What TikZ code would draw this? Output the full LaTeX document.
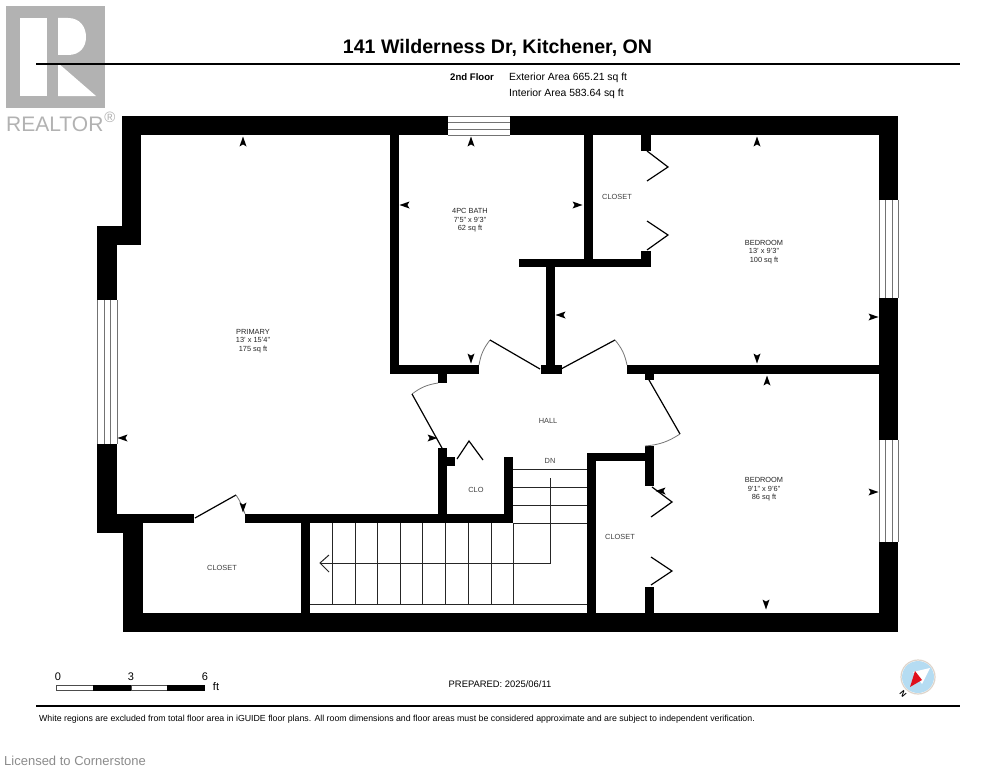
\documentclass[tikz,border=0pt]{standalone}
\usepackage{fontspec}
\setmainfont{Liberation Sans}
\definecolor{logogrey}{HTML}{B2B2B2}
\definecolor{arcgrey}{HTML}{777777}
\definecolor{compassblue}{HTML}{B5DCF2}
\definecolor{compassring}{HTML}{DDD5CC}
\definecolor{compassred}{HTML}{E0101C}
\newcommand{\fs}[1]{\fontsize{#1}{8.6}\selectfont}
\newcommand{\mk}[3]{\fill[black,shift={(#1,#2)},rotate=#3] (0,-5.5) -- (3.5,4.5) -- (0,2.4) -- (-3.5,4.5) -- cycle;}
\tikzset{
  wall/.style={fill=black,draw=none},
  doorleaf/.style={draw=black,line width=1.2pt},
  doorarc/.style={draw=arcgrey,line width=0.8pt},
  stair/.style={draw=black!85,line width=1pt},
  winline/.style={draw=black!55,line width=0.8pt},
  room/.style={font=\fs{7.4},text=black!75,align=center,inner sep=0pt,text depth=0pt},
  roomtitle/.style={font=\fs{7.4},text=black!85,align=center,inner sep=0pt},
  head/.style={inner sep=0pt,anchor=west}
}
\begin{document}
\begin{tikzpicture}[x=1pt,y=-1pt]
\useasboundingbox (0,0) rectangle (995,768);
\fill[white] (0,0) rectangle (995,768);
% logo
\fill[logogrey] (6,6) rectangle (105,108);
\fill[white] (20,18) rectangle (47,96);
\fill[white] (58,18) -- (68,18) .. controls (80,18) and (86,27) .. (86,37) .. controls (86,47) and (80,55) .. (68,55) -- (58,55) -- cycle;
\fill[white] (58,63) -- (96,96) -- (58,96) -- cycle;
\node[font=\fs{21},text=logogrey,inner sep=0pt,anchor=base west] (realtor) at (6,131.5) {REALTOR};
\node[font=\fs{15},text=logogrey,inner sep=0pt] (regmark) at (110,117.5) {®};
% rules and title
\draw[black,line width=1.5pt] (36,64) -- (960,64);
\draw[black,line width=1.8pt] (36,706) -- (960,706);
\node[font=\fs{19.6}\bfseries,inner sep=0pt] (title) at (497.5,47.5) {141 Wilderness Dr, Kitchener, ON};
\node[font=\fs{9.6}\bfseries,inner sep=0pt,anchor=base west] (floor) at (450,80) {2nd Floor};
\node[font=\fs{10.4},inner sep=0pt,anchor=base west] (ext) at (509,80) {Exterior Area 665.21 sq ft};
\node[font=\fs{10.4},inner sep=0pt,anchor=base west] (int) at (509,96) {Interior Area 583.64 sq ft};
% windows (lines under walls)
\foreach \y in {116,122,129,135} \draw[winline] (448,\y) -- (510,\y);
\foreach \x in {879,885,892,898} {\draw[winline] (\x,200) -- (\x,298); \draw[winline] (\x,440) -- (\x,542);}
\foreach \x in {97,104,110,117} \draw[winline] (\x,300) -- (\x,444);
% walls
\fill[wall] (123,116) rectangle (448,135);
\fill[wall] (510,116) rectangle (898,135);
\fill[wall] (879,116) rectangle (898,200);
\fill[wall] (879,298) rectangle (898,440);
\fill[wall] (879,542) rectangle (898,632);
\fill[wall] (124,613) rectangle (898,632);
\fill[wall] (123,514) rectangle (143,632);
\fill[wall] (122,116) rectangle (141,245);
\fill[wall] (97,226) rectangle (141,245);
\fill[wall] (97,226) rectangle (117,300);
\fill[wall] (97,444) rectangle (117,533);
\fill[wall] (97,514) rectangle (143,533);
\fill[wall] (97,514) rectangle (194,523);
\fill[wall] (245,514) rectangle (513,523);
\fill[wall] (301,523) rectangle (310,613);
\fill[wall] (390,135) rectangle (399,374);
\fill[wall] (390,365) rectangle (479,374);
\fill[wall] (438,374) rectangle (447,383);
\fill[wall] (546,265) rectangle (555,365);
\fill[wall] (541,365) rectangle (562,374);
\fill[wall] (627,365) rectangle (879,374);
\fill[wall] (645,374) rectangle (654,380);
\fill[wall] (584,135) rectangle (593,267);
\fill[wall] (519,259) rectangle (651,267);
\fill[wall] (641,135) rectangle (651,151);
\fill[wall] (641,251) rectangle (651,267);
\fill[wall] (645,446) rectangle (654,486);
\fill[wall] (587,453) rectangle (654,461);
\fill[wall] (587,453) rectangle (596,613);
\fill[wall] (645,587) rectangle (654,613);
\fill[wall] (438,448) rectangle (447,514);
\fill[wall] (447,457) rectangle (455,466);
\fill[wall] (504,457) rectangle (513,514);
% stairs
\foreach \y in {469.5,487,505,523} \draw[stair] (513,\y) -- (587,\y);
\foreach \x in {332,355,377,400,422,445,468,491,513} \draw[stair] (\x,523) -- (\x,604);
\draw[stair] (310,604) -- (587,604);
\draw[stair] (550,478) -- (550,563) -- (320,563);
\draw[stair] (329,555) -- (320,563) -- (329,572);
% doors
\draw[doorleaf] (195,518) -- (236,495);
\draw[doorarc] (236,495) to[bend left=8] (245,514);
\draw[doorarc] (438,383) to[bend right=14] (412,394);
\draw[doorleaf] (412,394) -- (442,448);
\draw[doorarc] (479,365) to[bend left=14] (490,340);
\draw[doorleaf] (490,340) -- (540,369);
\draw[doorleaf] (561,369) -- (615,340);
\draw[doorarc] (615,340) to[bend left=14] (627,365);
\draw[doorleaf] (649,380) -- (680,434);
\draw[doorarc] (680,434) to[bend left=14] (645,446);
\draw[doorleaf] (647,151) -- (668,167) -- (647,181);
\draw[doorleaf] (647,221) -- (668,235) -- (647,250);
\draw[doorleaf] (652,487) -- (672,502) -- (651,517);
\draw[doorleaf] (651,557) -- (672,571) -- (651,585);
\draw[doorleaf] (457,459) -- (469,441) -- (483,460);
% dimension markers
\mk{243}{142}{0}
\mk{123}{438}{90}
\mk{243}{507}{180}
\mk{432}{438}{-90}
\mk{471}{142}{0}
\mk{405}{205}{90}
\mk{577}{205}{-90}
\mk{471}{358}{180}
\mk{757}{142}{0}
\mk{561}{315}{90}
\mk{873}{317}{-90}
\mk{757}{358}{180}
\mk{767}{381}{0}
\mk{661}{491}{90}
\mk{873}{492}{-90}
\mk{766}{604}{180}
% room labels
\node[roomtitle] (primary) at (253,341) {PRIMARY\\13' x 15'4"\\175 sq ft};
\node[roomtitle] (bath) at (470,220.5) {4PC BATH\\7'5" x 9'3"\\62 sq ft};
\node[roomtitle] (bed1) at (764,252) {BEDROOM\\13' x 9'3"\\100 sq ft};
\node[roomtitle] (bed2) at (764,489.5) {BEDROOM\\9'1" x 9'6"\\86 sq ft};
\node[room] (clos1) at (617,197) {CLOSET};
\node[room] (clos2) at (620,537) {CLOSET};
\node[room] (clos3) at (222,568) {CLOSET};
\node[room] (hall) at (548,421) {HALL};
\node[room] (dn) at (550,461) {DN};
\node[room] (clo) at (476,490) {CLO};
% scale bar
\draw[black!70,line width=0.6pt,fill=white] (56,685) rectangle (93,690);
\fill[black] (93,684.5) rectangle (131,690.5);
\draw[black!70,line width=0.6pt,fill=white] (131,685) rectangle (167,690);
\fill[black] (167,684.5) rectangle (205,690.5);
\node[font=\fs{11},inner sep=0pt] (s0) at (58,677) {0};
\node[font=\fs{11},inner sep=0pt] (s3) at (131,677) {3};
\node[font=\fs{11},inner sep=0pt] (s6) at (205,677) {6};
\node[font=\fs{11},inner sep=0pt] (sft) at (216,687) {ft};
% prepared, footer
\node[font=\fs{9.4},inner sep=0pt] (prep) at (500,684) {PREPARED: 2025/06/11};
\node[font=\fs{8.79},inner sep=0pt,anchor=base west] (foot) at (39,721) {White regions are excluded from total floor area in iGUIDE floor plans. All room dimensions and floor areas must be considered approximate and are subject to independent verification.};
\node[font=\fs{13},text=black!45,inner sep=0pt,anchor=base west] (lic) at (4,765) {Licensed to Cornerstone};
% compass
\fill[compassblue] (918,677) circle (16);
\draw[compassring,line width=1.2pt] (918,677) circle (17);
\fill[white] (930,668) -- (913,672) -- (922,684) -- cycle;
\fill[compassred] (910,687) -- (915,671) -- (922,680) -- cycle;
\node[font=\fs{8}\bfseries,rotate=-50,inner sep=0pt] (north) at (903,694) {N};
\end{tikzpicture}
\end{document}
